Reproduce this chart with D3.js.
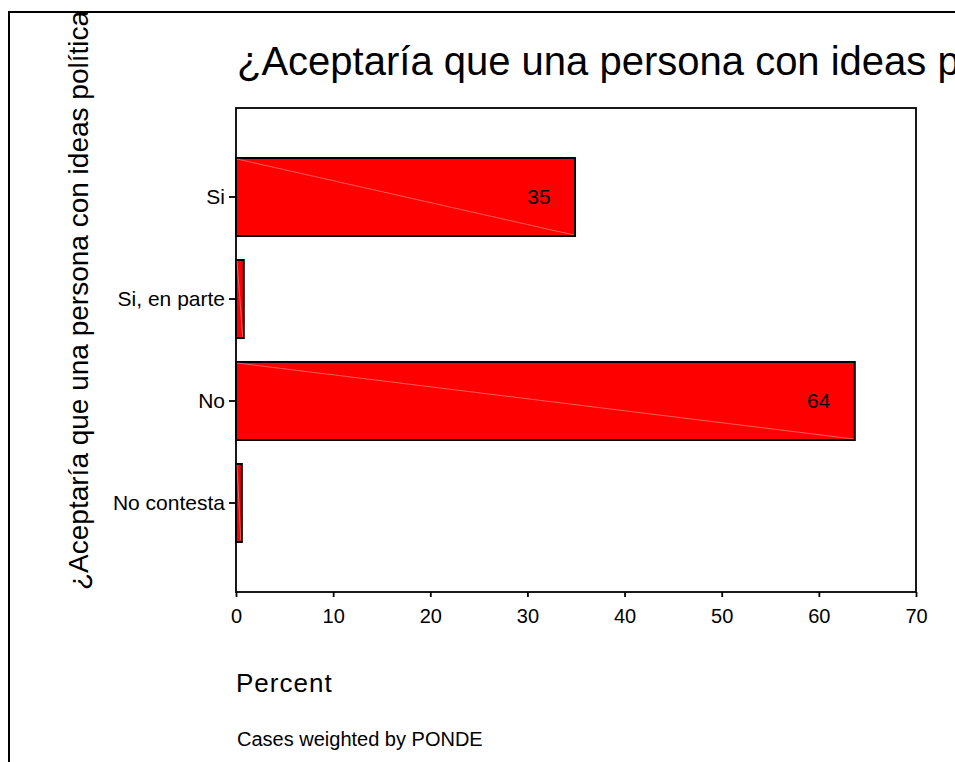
<!DOCTYPE html>
<html>
<head>
<meta charset="utf-8">
<script src="https://cdn.jsdelivr.net/npm/d3@7/dist/d3.min.js"></script>
<style>
  html, body { margin: 0; padding: 0; background: #fff; overflow: hidden; }
  svg { display: block; }
  text { font-family: "Liberation Sans", Arial, sans-serif; fill: #000; }
</style>
</head>
<body>
<script>
// ---- data ----
const categories = ["Si", "Si, en parte", "No", "No contesta"];
const percents = [34.9, 0.8, 63.7, 0.6];
const barLabels = ["35", "", "64", ""];
const xTicks = [0, 10, 20, 30, 40, 50, 60, 70];
const titleText = "¿Aceptaría que una persona con ideas políticas";
const yTitleText = "¿Aceptaría que una persona con ideas políticas";
const xTitleText = "Percent";
const footText = "Cases weighted by PONDE";

const W = 955, H = 762;
const svg = d3.select("body").append("svg").attr("width", W).attr("height", H);

// outer frame (extends past right/bottom edges)
svg.append("rect").attr("x", 9).attr("y", 12).attr("width", W + 20).attr("height", H + 20)
  .attr("fill", "none").attr("stroke", "#000").attr("stroke-width", 2);

const defs = svg.append("defs");
defs.append("clipPath").attr("id", "frameClip")
  .append("rect").attr("x", 10).attr("y", 13).attr("width", W).attr("height", H);

const plot = { left: 236, top: 108, right: 916, bottom: 592 };

const x = d3.scaleLinear().domain([0, 70]).range([plot.left, plot.right]);
const y = d3.scaleBand().domain(categories).range([158, 542]).paddingInner(0.235).paddingOuter(0);

// title
svg.append("text").attr("x", 237).attr("y", 75)
  .attr("font-size", 40).text(titleText);

// y title (rotated), clipped at the outer frame
svg.append("g").attr("clip-path", "url(#frameClip)")
  .append("text")
  .attr("transform", "translate(88,590) rotate(-90)")
  .attr("font-size", 28).text(yTitleText);

// plot frame
svg.append("rect").attr("x", plot.left).attr("y", plot.top)
  .attr("width", plot.right - plot.left).attr("height", plot.bottom - plot.top)
  .attr("fill", "none").attr("stroke", "#000").attr("stroke-width", 1.8);

// bars
const bars = svg.append("g");
categories.forEach((c, i) => {
  const x0 = x(0), x1 = x(percents[i]);
  const y0 = y(c), h = y.bandwidth();
  bars.append("rect").attr("x", x0).attr("y", y0).attr("width", x1 - x0).attr("height", h)
    .attr("fill", "#ff0000").attr("stroke", "#000").attr("stroke-width", 2);
  bars.append("line").attr("x1", x0 + 1).attr("y1", y0 + 1).attr("x2", x1 - 1).attr("y2", y0 + h - 1)
    .attr("stroke", "#ffffff").attr("stroke-opacity", 0.5).attr("stroke-width", 0.7);
  if (barLabels[i]) {
    bars.append("text").attr("x", x1 - 36).attr("y", y0 + h / 2).attr("dy", "0.35em")
      .attr("text-anchor", "middle").attr("font-size", 21).text(barLabels[i]);
  }
});

// y axis ticks + labels
const yAxis = d3.axisLeft(y).tickSize(7).tickSizeOuter(0).tickPadding(4);
const gy = svg.append("g").attr("transform", `translate(${plot.left},0)`).call(yAxis);
gy.select(".domain").remove();
gy.selectAll(".tick line").attr("stroke", "#000").attr("stroke-width", 1.8);
gy.selectAll(".tick text").attr("font-size", 21).attr("fill", "#000")
  .attr("font-family", "Liberation Sans, Arial, sans-serif");

// x axis
const xAxis = d3.axisBottom(x).tickValues(xTicks).tickSize(5).tickSizeOuter(0).tickPadding(12)
  .tickFormat(d3.format("d"));
const gx = svg.append("g").attr("transform", `translate(0,${plot.bottom})`).call(xAxis);
gx.select(".domain").remove();
gx.selectAll(".tick line").attr("stroke", "#000").attr("stroke-width", 1.8);
gx.selectAll(".tick text").attr("font-size", 20).attr("fill", "#000")
  .attr("font-family", "Liberation Sans, Arial, sans-serif");

// x title and footnote
svg.append("text").attr("x", 236).attr("y", 692).attr("font-size", 26)
  .attr("letter-spacing", 1).text(xTitleText);
svg.append("text").attr("x", 237).attr("y", 746).attr("font-size", 20).text(footText);
</script>
</body>
</html>
